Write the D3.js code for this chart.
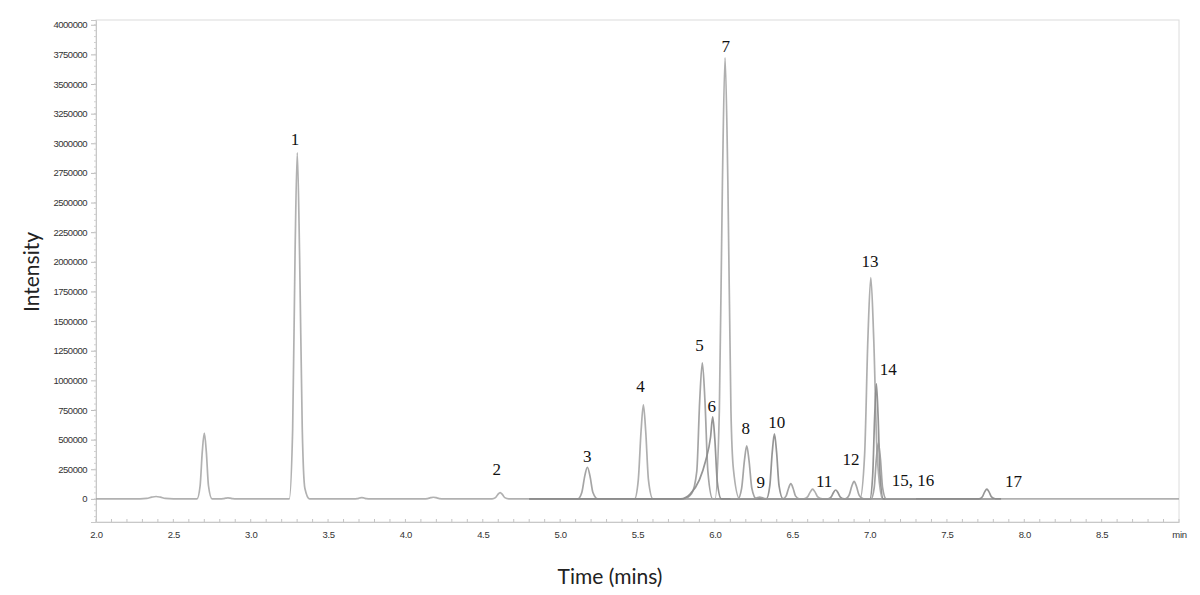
<!DOCTYPE html>
<html>
<head>
<meta charset="utf-8">
<script src="https://cdn.jsdelivr.net/npm/d3@7"></script>
<style>
  body { margin: 0; background: #fff; }
  svg { display: block; }
</style>
</head>
<body>
<div id="chart"></div>
<script>
// overlaid chromatogram traces, [time (min), intensity]
const traceA = [
  [2.0, 0],
  [2.284, 0], [2.328, 4000], [2.360, 14400], [2.388, 20000], [2.416, 14400], [2.448, 4000], [2.500, 0],
  [2.653, 0], [2.673, 110800], [2.687, 398900], [2.700, 554000], [2.713, 398900], [2.727, 110800], [2.750, 0],
  [2.800, 0], [2.823, 1800], [2.839, 6500], [2.853, 9000], [2.867, 6500], [2.883, 1800], [2.909, 0],
  [3.249, 0], [3.271, 584000], [3.287, 2102400], [3.301, 2920000], [3.316, 2050000], [3.333, 600000], [3.350, 90000], [3.380, 0],
  [3.666, 0], [3.688, 2000], [3.704, 7200], [3.718, 10000], [3.732, 7200], [3.748, 2000], [3.774, 0],
  [4.116, 0], [4.143, 2800], [4.163, 10100], [4.181, 14000], [4.199, 10100], [4.219, 2800], [4.251, 0],
  [4.560, 0], [4.582, 10600], [4.598, 38200], [4.612, 53000], [4.626, 38200], [4.642, 10600], [4.668, 0],
  [9.0, 0]
];

const traceB = [
  [4.80, 0],
  [5.114, 0], [5.140, 53400], [5.159, 192200], [5.176, 267000], [5.193, 192200], [5.212, 53400], [5.243, 0],
  [5.800, 0], [5.850, 45000], [5.883, 229600], [5.902, 826600], [5.919, 1148000], [5.936, 826600], [5.955, 229600], [5.986, 0],
  [6.149, 0], [6.173, 89400], [6.191, 321800], [6.206, 447000], [6.221, 321800], [6.239, 89400], [6.268, 0],
  [6.439, 0], [6.461, 25600], [6.477, 92200], [6.491, 128000], [6.505, 92200], [6.521, 25600], [6.547, 0],
  [6.843, 0], [6.867, 29600], [6.885, 106600], [6.900, 148000], [6.915, 106600], [6.933, 29600], [6.962, 0],
  [7.80, 0]
];

const traceC = [
  [4.80, 0],
  [5.481, 0], [5.505, 158600], [5.523, 571000], [5.538, 793000], [5.553, 571000], [5.571, 158600], [5.600, 0],
  [6.001, 0], [6.029, 744000], [6.049, 2678400], [6.066, 3720000], [6.084, 2678400], [6.104, 744000], [6.120, 250000], [6.160, 0],
  [6.575, 0], [6.599, 16400], [6.617, 59000], [6.632, 82000], [6.647, 59000], [6.665, 16400], [6.694, 0],
  [6.938, 0], [6.968, 373400], [6.989, 1344200], [7.008, 1867000], [7.027, 1344200], [7.049, 373400], [7.084, 0],
  [7.80, 0]
];

const traceD = [
  [4.80, 0],
  [5.780, 0], [5.840, 40000], [5.900, 160000], [5.940, 320000], [5.972, 520000], [5.986, 692000], [6.000, 500000], [6.016, 140000], [6.042, 0],
  [6.333, 0], [6.355, 109600], [6.371, 394600], [6.385, 548000], [6.399, 394600], [6.415, 109600], [6.441, 0],
  [6.729, 0], [6.751, 15000], [6.767, 54000], [6.781, 75000], [6.795, 54000], [6.811, 15000], [6.837, 0],
  [7.002, 0], [7.020, 194000], [7.033, 698400], [7.044, 970000], [7.055, 698400], [7.068, 194000], [7.089, 0],
  [7.706, 0], [7.728, 16400], [7.744, 59000], [7.758, 82000], [7.772, 59000], [7.788, 16400], [7.814, 0],
  [7.85, 0]
];

const traceE = [
  [6.10, 0],
  [6.238, 0], [6.260, 3000], [6.276, 10800], [6.290, 15000], [6.304, 10800], [6.320, 3000], [6.346, 0],
  [7.010, 0], [7.030, 94400], [7.044, 339800], [7.057, 472000], [7.070, 339800], [7.084, 94400], [7.107, 0],
  [7.30, 0]
];

const traces = [traceA, traceB, traceC, traceD, traceE];
const traceColors = ["#a9a9a9", "#9b9b9b", "#a6a6a6", "#8a8a8a", "#9a9a9a"];

// peak annotations (label, time, intensity at text baseline)
const peakLabels = ["1", "2", "3", "4", "5", "6", "7", "8", "9", "10", "11", "12", "13", "14", "15, 16", "17"];
const labelTimes = [3.286, 4.59, 5.176, 5.52, 5.90, 5.98, 6.07, 6.20, 6.296, 6.40, 6.706, 6.88, 7.003, 7.12, 7.28, 7.93];
const labelLevels = [2987000, 202000, 312000, 903000, 1249000, 734000, 3772000, 548000, 93000, 599000, 101000, 287000, 1958000, 1046000, 110000, 101000];

// axis ticks
const yTicks = d3.range(0, 4000001, 250000);
const yMinorTicks = d3.range(-150000, 4040001, 50000);
const xTicks = [2.0, 2.5, 3.0, 3.5, 4.0, 4.5, 5.0, 5.5, 6.0, 6.5, 7.0, 7.5, 8.0, 8.5, 9.0];
const xTickLabels = ["2.0", "2.5", "3.0", "3.5", "4.0", "4.5", "5.0", "5.5", "6.0", "6.5", "7.0", "7.5", "8.0", "8.5", "min"];
const xMinorTicks = d3.range(20, 91, 1).map(d => d / 10);

const width = 1200, height = 595;
const margin = { top: 20, right: 21, bottom: 73, left: 96 };

const svg = d3.select("#chart").append("svg")
  .attr("width", width)
  .attr("height", height);

const x = d3.scaleLinear()
  .domain([2.0, 9.0])
  .range([margin.left, width - margin.right]);

const y = d3.scaleLinear()
  .domain([-195000, 4040000])
  .range([height - margin.bottom, margin.top]);

// plot frame
svg.append("rect")
  .attr("x", x(2.0))
  .attr("y", y(4040000))
  .attr("width", x(9.0) - x(2.0))
  .attr("height", y(-195000) - y(4040000))
  .attr("fill", "none")
  .attr("stroke", "#dcdcdc")
  .attr("stroke-width", 1);

// y axis
const yAxis = svg.append("g")
  .attr("transform", `translate(${x(2.0)},0)`)
  .call(d3.axisLeft(y).tickValues(yTicks).tickSize(5).tickPadding(4).tickFormat(d3.format("d")));
yAxis.select(".domain").attr("stroke", "#c8c8c8");
yAxis.selectAll(".tick line").attr("stroke", "#bbb");
yAxis.selectAll("text")
  .attr("font-family", "Liberation Sans, Arial, sans-serif")
  .attr("font-size", "9.5px")
  .attr("fill", "#333")
  .attr("letter-spacing", "-0.5px");

svg.append("g")
  .selectAll("line")
  .data(yMinorTicks)
  .join("line")
  .attr("x1", x(2.0) - 2)
  .attr("x2", x(2.0))
  .attr("y1", d => y(d))
  .attr("y2", d => y(d))
  .attr("stroke", "#d0d0d0");

// x axis at the bottom of the frame
const xAxis = svg.append("g")
  .attr("transform", `translate(0,${y(-195000)})`)
  .call(d3.axisBottom(x).tickValues(xTicks).tickSize(0).tickPadding(9)
    .tickFormat((d, i) => xTickLabels[i]));
xAxis.select(".domain").attr("stroke", "#c8c8c8");
xAxis.selectAll("text")
  .attr("font-family", "Liberation Sans, Arial, sans-serif")
  .attr("font-size", "9.5px")
  .attr("fill", "#333")
  .attr("letter-spacing", "-0.3px");

svg.append("g")
  .selectAll("line")
  .data(xMinorTicks)
  .join("line")
  .attr("x1", d => x(d))
  .attr("x2", d => x(d))
  .attr("y1", y(-195000) - 3)
  .attr("y2", y(-195000))
  .attr("stroke", "#c4c4c4");

// traces
const line = d3.line()
  .x(d => x(d[0]))
  .y(d => y(d[1]))
  .curve(d3.curveMonotoneX);

svg.append("g")
  .selectAll("path")
  .data(traces)
  .join("path")
  .attr("d", line)
  .attr("fill", "none")
  .attr("stroke", (d, i) => traceColors[i])
  .attr("stroke-width", 1.7)
  .attr("stroke-opacity", 0.9)
  .attr("stroke-linejoin", "round");

// peak numbers
svg.append("g")
  .selectAll("text")
  .data(peakLabels)
  .join("text")
  .attr("x", (d, i) => x(labelTimes[i]))
  .attr("y", (d, i) => y(labelLevels[i]))
  .attr("text-anchor", "middle")
  .attr("font-family", "Liberation Serif, Times New Roman, serif")
  .attr("font-size", "17px")
  .attr("fill", "#111")
  .text(d => d);

// axis titles
svg.append("text")
  .attr("transform", "translate(39,272) rotate(-90)")
  .attr("text-anchor", "middle")
  .attr("font-family", "Lato, Open Sans, sans-serif")
  .attr("font-size", "21px")
  .attr("fill", "#222")
  .text("Intensity");

svg.append("text")
  .attr("x", 610)
  .attr("y", 584)
  .attr("text-anchor", "middle")
  .attr("font-family", "Lato, Open Sans, sans-serif")
  .attr("font-size", "21px")
  .attr("fill", "#222")
  .text("Time (mins)");
</script>
</body>
</html>
